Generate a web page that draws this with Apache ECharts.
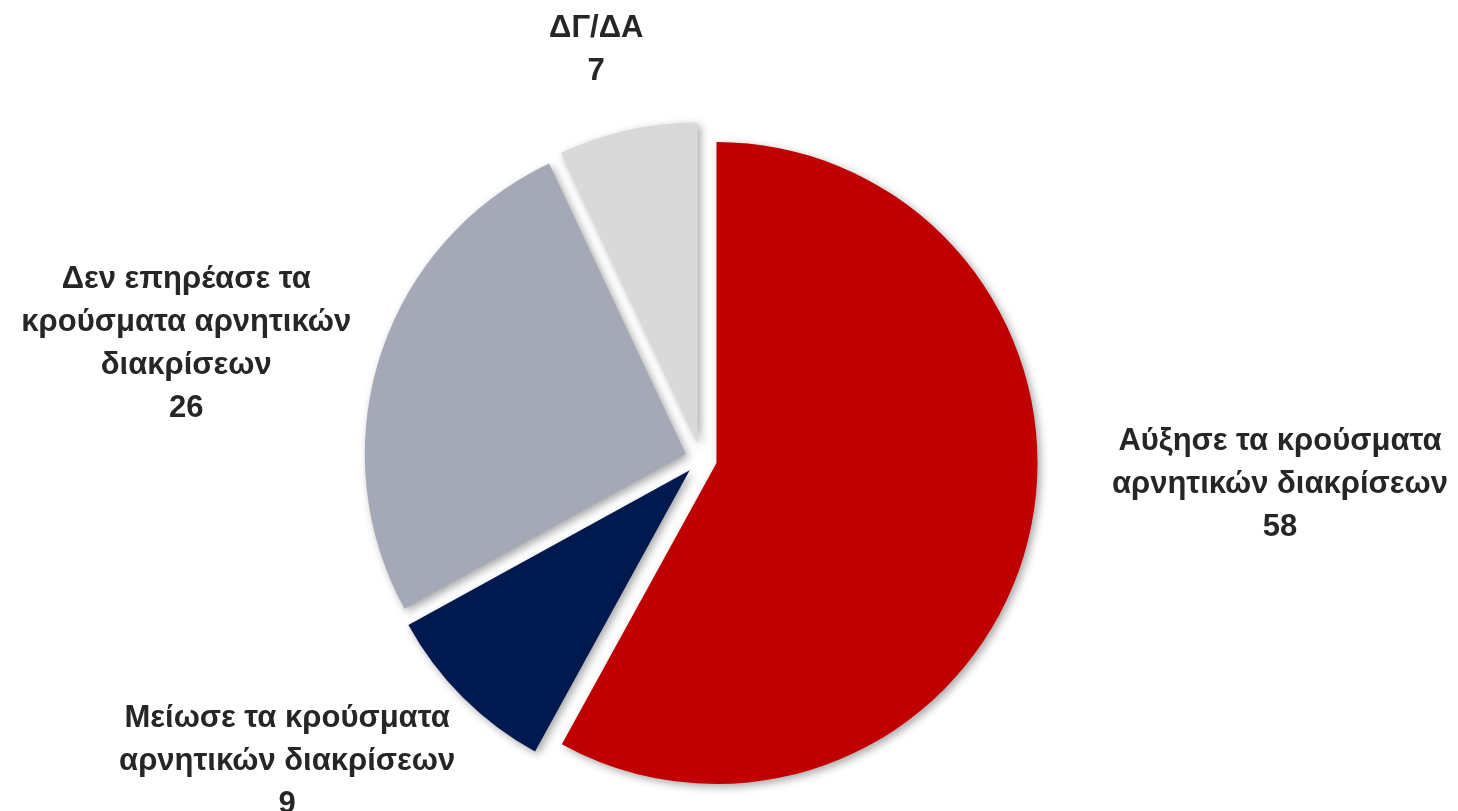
<!DOCTYPE html>
<html>
<head>
<meta charset="utf-8">
<script src="https://cdn.jsdelivr.net/npm/echarts@6/dist/echarts.min.js"></script>
<style>
  html, body { margin: 0; padding: 0; background: #fff; }
  #main { width: 1458px; height: 811px; }
</style>
</head>
<body>
<div id="main"></div>
<script>
 var categories = ['Αύξησε τα κρούσματα\nαρνητικών διακρίσεων', 'Μείωσε τα κρούσματα\nαρνητικών διακρίσεων', 'Δεν επηρέασε τα\nκρούσματα αρνητικών\nδιακρίσεων', 'ΔΓ/ΔΑ'];
 var values = [58, 9, 26, 7];
 var colors = ['#C00000', '#001A50', '#A5A8B6', '#D9D9D9'];

 // μετατόπιση ετικετών από την προεπιλεγμένη θέση (px)
 var labelShift = [[203, -62], [-130, 54], [-145, -6], [7, -66]];

 var myChart = echarts.init(document.getElementById('main'));
 var option = {
   animation: false,
   series: [{
     type: 'pie',
     center: [701, 459],
     radius: 321,
     startAngle: 90,
     clockwise: true,
     selectedMode: 'multiple',
     selectedOffset: 16,
     avoidLabelOverlap: false,
     itemStyle: {
       shadowBlur: 8,
       shadowOffsetX: 3,
       shadowOffsetY: 3,
       shadowColor: 'rgba(0,0,0,0.35)'
     },
     label: {
       show: true,
       position: 'outside',
       formatter: '{b}\n{c}',
       color: '#262626',
       fontFamily: "'Liberation Sans', Arial, sans-serif",
       fontWeight: 'bold',
       fontSize: 31,
       lineHeight: 43
     },
     labelLine: { show: false },
     labelLayout: function (p) {
       var s = labelShift[p.dataIndex];
       return {
         dx: s[0],
         dy: s[1],
         align: 'center',
         verticalAlign: 'middle'
       };
     },
     data: values.map(function (v, i) {
       return {
         name: categories[i],
         value: v,
         selected: true,
         itemStyle: { color: colors[i] }
       };
     })
   }]
 };
 myChart.setOption(option);
</script>
</body>
</html>
